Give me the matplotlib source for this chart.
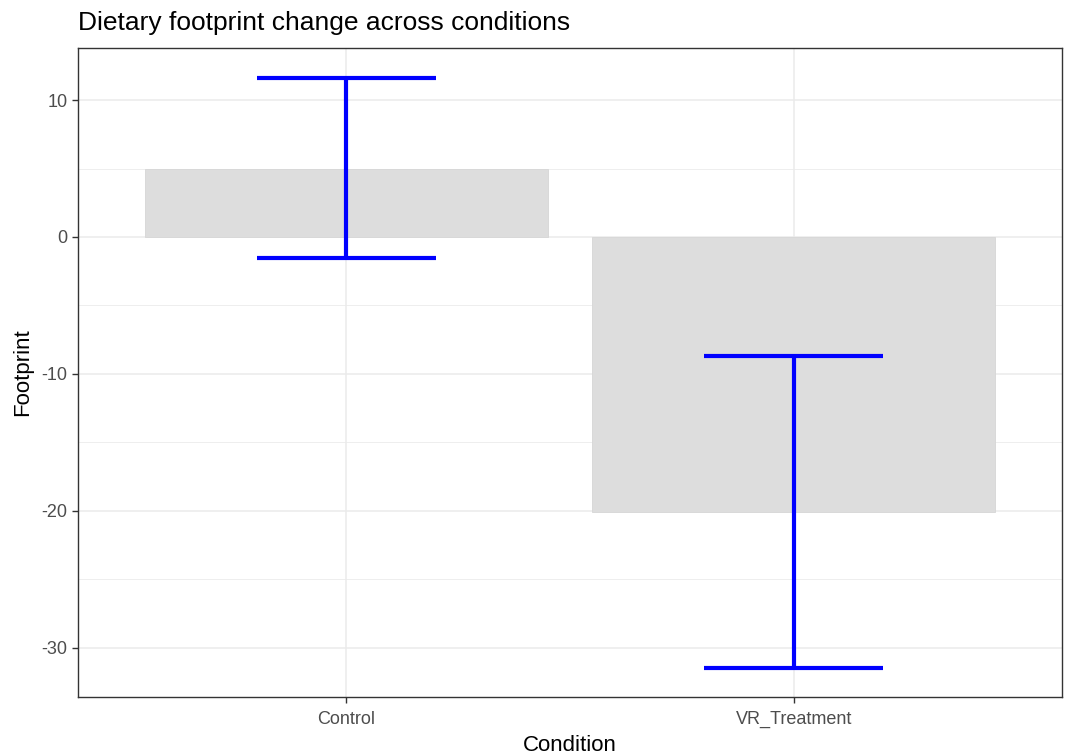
import numpy as np
import matplotlib
matplotlib.use('Agg')
import matplotlib.pyplot as plt

conditions = ['Control', 'VR_Treatment']
means = [5.0, -20.1]
ci_low = [-1.5, -31.5]
ci_high = [11.6, -8.7]

plt.rcParams['font.family'] = ['Liberation Sans', 'DejaVu Sans']
plt.rcParams['axes.unicode_minus'] = False

fig = plt.figure(figsize=(10.7, 7.54), dpi=100)
ax = fig.add_axes([0.0729, 0.0756, 0.9196, 0.8607])

x = np.arange(1, len(conditions) + 1)

# grid like theme_bw
for yv in np.arange(-35, 15, 5):
    major = yv % 10 == 0
    ax.axhline(yv, color='#EBEBEB', lw=1.1 if major else 0.6, zorder=0)
for xv in x:
    ax.axvline(xv, color='#EBEBEB', lw=1.1, zorder=0)

ax.bar(x, means, width=0.9, color='#DDDDDD', edgecolor='#D6D6D6', lw=0.6, zorder=1)

half = 0.2
for xi, lo, hi in zip(x, ci_low, ci_high):
    ax.plot([xi, xi], [lo, hi], color='#0000FF', lw=3, zorder=3, solid_capstyle='butt')
    ax.plot([xi - half, xi + half], [lo, lo], color='#0000FF', lw=3, zorder=3, solid_capstyle='butt')
    ax.plot([xi - half, xi + half], [hi, hi], color='#0000FF', lw=3, zorder=3, solid_capstyle='butt')

ax.set_xlim(0.4, 2.6)
ax.set_ylim(-33.6, 13.8)
ax.set_xticks(x)
ax.set_xticklabels(conditions)
ax.set_yticks([-30, -20, -10, 0, 10])
ax.tick_params(axis='both', labelsize=13, colors='#333333', labelcolor='#4D4D4D', length=4, width=1)
ax.tick_params(axis='x', pad=6)

for s in ax.spines.values():
    s.set_color('#333333')
    s.set_linewidth(1.0)

ax.set_xlabel('Condition', fontsize=16, labelpad=5)
ax.set_ylabel('Footprint', fontsize=16, labelpad=6)
ax.set_title('Dietary footprint change across conditions', fontsize=19, loc='left', pad=13)

fig.savefig('out.png', dpi=100)
